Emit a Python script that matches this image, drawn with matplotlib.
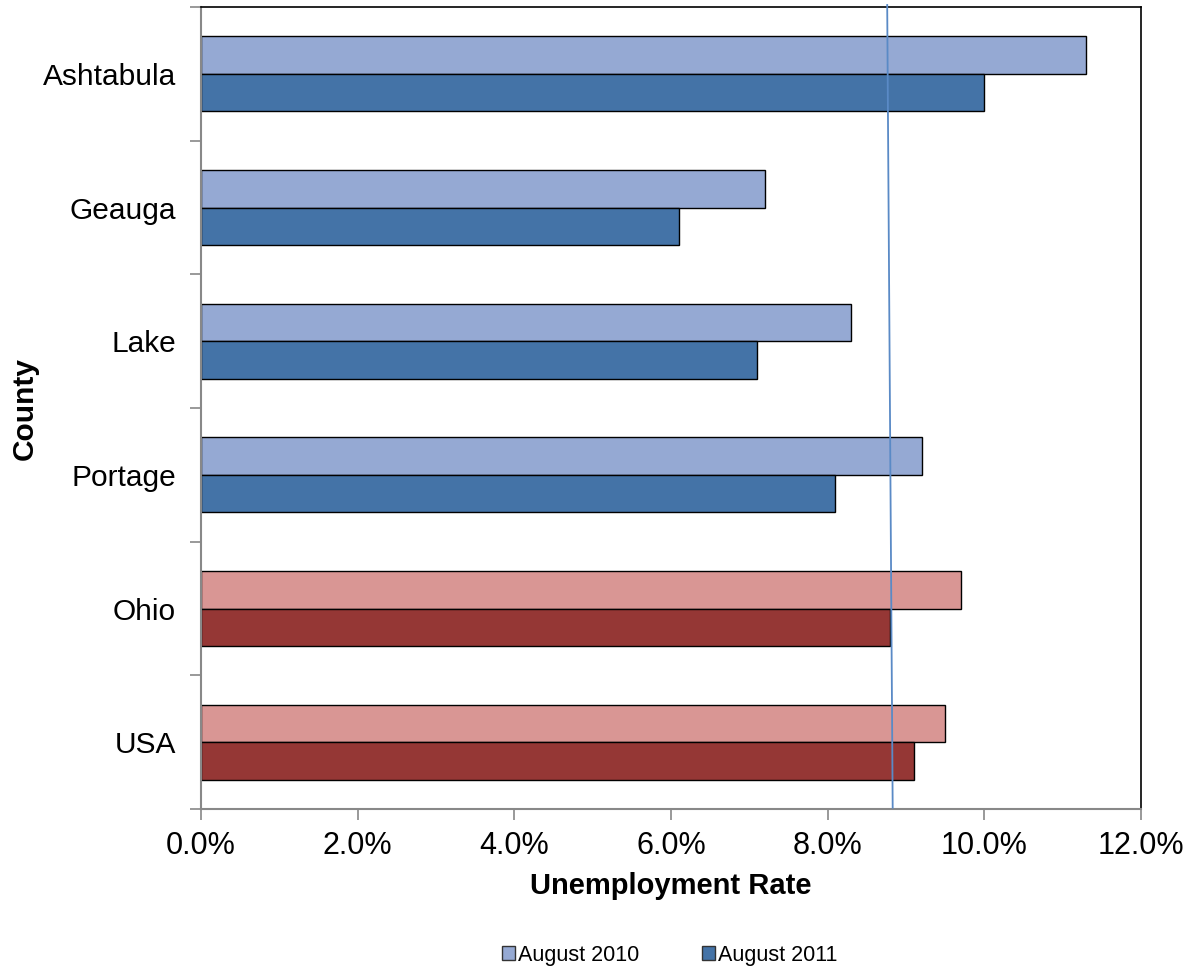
import matplotlib
matplotlib.use('Agg')
import matplotlib.pyplot as plt
import numpy as np
from matplotlib.patches import Patch

plt.rcParams['font.family'] = ['Liberation Sans', 'DejaVu Sans']

# unemployment rates in percent
regions = ['Ashtabula', 'Geauga', 'Lake', 'Portage', 'Ohio', 'USA']
rate_2010 = [11.3, 7.2, 8.3, 9.2, 9.7, 9.5]
rate_2011 = [10.0, 6.1, 7.1, 8.1, 8.8, 9.1]
# reference line, drawn slightly tilted (top, bottom)
ref_line = [8.76, 8.83]
x_ticks = [0, 2, 4, 6, 8, 10, 12]

light_blue, dark_blue = '#95A9D3', '#4473A7'
light_red, dark_red = '#D99694', '#953735'

fig = plt.figure(figsize=(11.92, 9.69), dpi=100)
ax = fig.add_axes([201 / 1192, 1 - 809 / 969, 940 / 1192, 802 / 969])

y = np.arange(len(regions))
h = 0.28
c10 = [light_red if r in ('Ohio', 'USA') else light_blue for r in regions]
c11 = [dark_red if r in ('Ohio', 'USA') else dark_blue for r in regions]
ax.barh(y - h / 2, rate_2010, height=h, color=c10, edgecolor='black', linewidth=1.0, zorder=2)
ax.barh(y + h / 2, rate_2011, height=h, color=c11, edgecolor='black', linewidth=1.0, zorder=2)

ax.set_ylim(len(regions) - 0.5, -0.5)
ax.set_xlim(0, 12)
ax.plot(ref_line, [-0.515, 5.49], color='#5A8AC6', linewidth=1.3, zorder=3, clip_on=False)

ax.set_yticks(y)
ax.set_yticklabels(regions, fontsize=21.5)
ax.set_yticks(np.arange(-0.5, len(regions)), minor=True)
ax.tick_params(axis='y', which='major', length=0, pad=18)
ax.tick_params(axis='y', which='minor', length=8, width=1.2, color='#888888', direction='out')

ax.set_xticks(x_ticks)
ax.set_xticklabels([f'{v:.1f}%' for v in x_ticks], fontsize=22)
ax.tick_params(axis='x', length=8, width=1.2, color='#888888', pad=8)

ax.set_xlabel('Unemployment Rate', fontsize=21, fontweight='bold', labelpad=8)
ax.set_ylabel('County', fontsize=21.5, fontweight='bold')
ax.yaxis.set_label_coords(-0.173, 0.5)

for s in ('left', 'bottom'):
    ax.spines[s].set_color('#888888')
    ax.spines[s].set_linewidth(1.5)
for s in ('top', 'right'):
    ax.spines[s].set_color('black')
    ax.spines[s].set_linewidth(1.2)

handles = [Patch(facecolor=light_blue, edgecolor='#333333', label='August 2010'),
           Patch(facecolor=dark_blue, edgecolor='#333333', label='August 2011')]
fig.legend(handles=handles, loc='center', bbox_to_anchor=(0.562, 1 - 955 / 969), ncol=2,
           frameon=False, fontsize=15.5, handlelength=0.6, handleheight=0.6,
           handletextpad=0.15, columnspacing=2.9)

fig.savefig('out.png', dpi=100)
